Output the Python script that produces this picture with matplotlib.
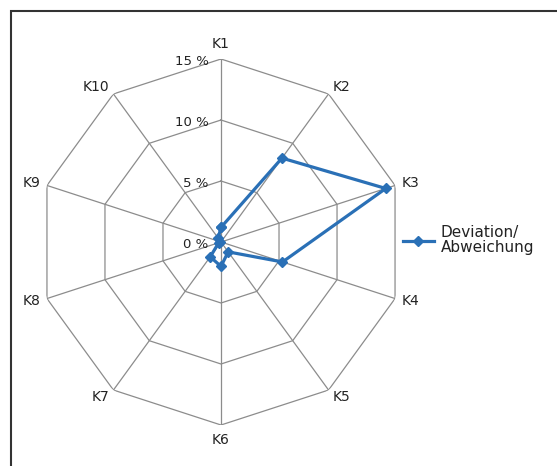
import matplotlib.pyplot as plt
import numpy as np
from matplotlib.patches import Rectangle

categories = ["K1", "K2", "K3", "K4", "K5", "K6", "K7", "K8", "K9", "K10"]
deviation = [1.2, 8.5, 14.2, 5.3, 1.0, 2.0, 1.5, 0.2, 0.1, 0.4]
ring_values = [0, 5, 10, 15]
ring_labels = ["0 %", "5 %", "10 %", "15 %"]
series_name = "Deviation/\nAbweichung"

plt.rcParams['font.family'] = ['DejaVu Sans']

fig = plt.figure(figsize=(5.57, 4.66), dpi=100)
W, H = 557, 466
cx, cy, R = 221, 242, 183
ax = fig.add_axes([(cx - R) / W, (H - cy - R) / H, 2 * R / W, 2 * R / H],
                  projection='polar')
ax.set_theta_zero_location('N')
ax.set_theta_direction(-1)
ax.set_ylim(0, 15)
ax.grid(False)
ax.spines['polar'].set_visible(False)
ax.set_xticks([])
ax.set_yticks([])
ax.patch.set_alpha(0)

n = len(categories)
angles = np.arange(n) * 2 * np.pi / n
closed = np.append(angles, angles[0])

grid_col = '#8c8c8c'
for v in ring_values[1:]:
    ax.plot(closed, [v] * (n + 1), color=grid_col, lw=0.9, zorder=1)
for a in angles:
    ax.plot([a, a], [0, 15], color=grid_col, lw=0.9, zorder=1)

vals = np.append(deviation, deviation[0])
line, = ax.plot(closed, vals, color='#2a70b6', lw=2.3, marker='D', ms=5.5,
                zorder=3, label=series_name)

# category labels
for a, lab in zip(angles, categories):
    s, c = np.sin(a), np.cos(a)
    if abs(s) < 0.1:
        ha = 'center'
    else:
        ha = 'left' if s > 0 else 'right'
    if c > 0.9:
        va = 'bottom'
    elif c < -0.9:
        va = 'top'
    else:
        va = 'center'
    ax.annotate(lab, (a, 15), xytext=(s * 5, c * 6), textcoords='offset points',
                ha=ha, va=va, fontsize=10, color='#222222')

# ring labels
for v, lab in zip(ring_values, ring_labels):
    ax.annotate(lab, (0, v), xytext=(-9, -2), textcoords='offset points',
                ha='right', va='center', fontsize=9.5, color='#222222')

leg = fig.legend(handles=[line], loc='center left', bbox_to_anchor=(403 / W, 1 - 240 / H),
                 frameon=False, fontsize=11, handlelength=2.0, handletextpad=0.45,
                 borderaxespad=0, borderpad=0)
for t in leg.get_texts():
    t.set_linespacing(0.95)
    t.set_color('#222222')

fig.patches.append(Rectangle((11 / W, -0.1), 1.2, 1 - 11 / H + 0.1,
                             transform=fig.transFigure, fill=False,
                             edgecolor='#333333', lw=1.5))

fig.savefig("out.png", dpi=100)
